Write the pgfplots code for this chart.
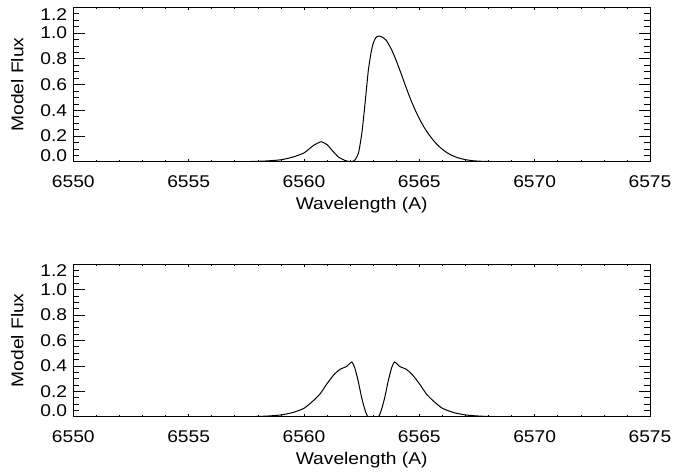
\documentclass[border=0pt]{standalone}
\usepackage{fontspec}
\setmainfont{Liberation Sans}[FakeStretch=1.13]
\usepackage{pgfplots}
\pgfplotsset{compat=1.18}

% Model H-alpha profiles: one-sided (top) and double-peaked (bottom)
\pgfplotstableread{
lam flux
6550.0 0
6556.0 0
6557.5 0.001
6558.3 0.005
6559.0 0.015
6559.5 0.035
6560.0 0.068
6560.4 0.125
6560.74 0.155
6561.0 0.132
6561.2 0.092
6561.5 0.036
6561.8 0.008
6562.05 0
6562.2 0.012
6562.36 0.065
6562.5 0.21
6562.6 0.37
6562.7 0.55
6562.79 0.71
6562.9 0.84
6563.0 0.92
6563.1 0.96
6563.22 0.977
6563.4 0.968
6563.58 0.94
6563.8 0.87
6564.0 0.785
6564.2 0.69
6564.4 0.59
6564.6 0.495
6564.8 0.41
6565.0 0.335
6565.2 0.27
6565.4 0.215
6565.6 0.168
6565.8 0.128
6566.0 0.096
6566.2 0.07
6566.4 0.05
6566.6 0.035
6566.8 0.024
6567.0 0.016
6567.3 0.008
6567.6 0.004
6568.0 0.0015
6568.5 0
6575.0 0
}\singlepeak

\pgfplotstableread{
lam flux
6550.0 0
6557.0 0
6558.0 0.002
6558.5 0.006
6559.0 0.014
6559.5 0.032
6560.0 0.066
6560.4 0.125
6560.7 0.18
6561.0 0.26
6561.3 0.33
6561.56 0.372
6561.85 0.395
6562.07 0.43
6562.2 0.385
6562.35 0.28
6562.5 0.15
6562.65 0.05
6562.78 0
6563.22 0
6563.35 0.05
6563.5 0.15
6563.65 0.28
6563.8 0.385
6563.93 0.43
6564.15 0.395
6564.44 0.372
6564.7 0.33
6565.0 0.26
6565.3 0.18
6565.6 0.125
6566.0 0.066
6566.5 0.032
6567.0 0.014
6567.5 0.006
6568.0 0.002
6569.0 0
6575.0 0
}\doublepeak

\pgfplotsset{
  panel/.style={
    scale only axis,
    width=576.7bp,
    xmin=6550, xmax=6575,
    ymin=0, ymax=1.2,
    axis line style={line width=0.7bp},
    tick align=inside,
    every tick/.style={black, line width=0.6bp},
    font=\fontsize{17bp}{20bp}\selectfont,
  },
  % wavelength axis: short ticks, as a fraction of the panel height
  xpanel/.style={
    panel,
    ytick=\empty,
    xtick={6550,6555,...,6575},
    xticklabels={6550,6555,6560,6565,6570,6575},
    minor x tick num=4,
    major tick length=3bp,
    minor tick length=1.6bp,
    xticklabel style={inner sep=0pt, anchor=north, yshift=-13.5bp},
    xlabel={Wavelength (A)},
    every axis x label/.style={at={(axis description cs:0.5,0)}, anchor=north, inner sep=0pt, yshift=-35.5bp},
  },
  % flux axis: long ticks, as a fraction of the panel width
  ypanel/.style={
    panel,
    xtick=\empty,
    ytick={0,0.2,0.4,0.6,0.8,1.0,1.2},
    yticklabels={\raisebox{6bp}[\height][\depth]{0.0},0.2,0.4,0.6,0.8,1.0,\raisebox{-7bp}[\height][\depth]{1.2}},
    minor y tick num=3,
    major tick length=11.5bp,
    minor tick length=5.8bp,
    yticklabel style={inner sep=0pt, anchor=east, xshift=-6bp},
    ylabel={Model Flux},
    every axis y label/.style={at={(axis description cs:0,0.5)}, xshift=-56bp, rotate=90, anchor=center, inner sep=0pt},
  },
  profile/.style={black, line width=1bp, smooth, tension=0.35},
}

\begin{document}
\begin{tikzpicture}
\path[use as bounding box] (0,0) rectangle (673bp,-472bp);

% upper panel
\begin{axis}[xpanel, height=154.4bp, anchor=north west, at={(73.3bp,-7.3bp)}]
\end{axis}
\begin{axis}[ypanel, height=154.4bp, anchor=north west, at={(73.3bp,-7.3bp)}]
  \addplot[profile] table[x=lam, y=flux] {\singlepeak};
\end{axis}

% lower panel
\begin{axis}[xpanel, height=152.7bp, anchor=north west, at={(73.3bp,-264bp)}]
\end{axis}
\begin{axis}[ypanel, height=152.7bp, anchor=north west, at={(73.3bp,-264bp)}]
  \addplot[profile] table[x=lam, y=flux] {\doublepeak};
\end{axis}
\end{tikzpicture}
\end{document}
